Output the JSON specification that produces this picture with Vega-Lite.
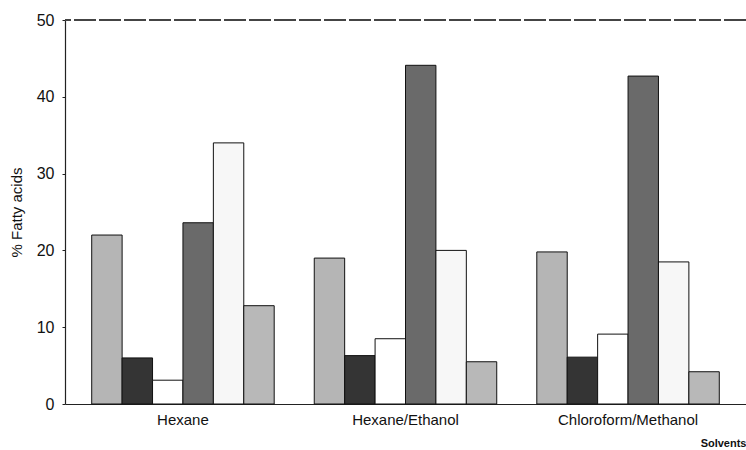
{
  "$schema": "https://vega.github.io/schema/vega-lite/v6.json",
  "width": 681,
  "height": 384,
  "autosize": {"type": "none"},
  "padding": {"left": 65, "top": 20, "right": 0, "bottom": 46},
  "background": "white",
  "config": {
    "view": {"stroke": null},
    "font": "Liberation Sans",
    "axis": {"labelFont": "Liberation Sans", "titleFont": "Liberation Sans", "labelColor": "#111", "titleColor": "#111", "domainColor": "#222", "tickColor": "#222"}
  },
  "data": {
    "values": [
      {"solvent": "Hexane", "acid": "Fatty acid 1", "pct": 22},
      {"solvent": "Hexane", "acid": "Fatty acid 2", "pct": 6},
      {"solvent": "Hexane", "acid": "Fatty acid 3", "pct": 3.1},
      {"solvent": "Hexane", "acid": "Fatty acid 4", "pct": 23.6},
      {"solvent": "Hexane", "acid": "Fatty acid 5", "pct": 34},
      {"solvent": "Hexane", "acid": "Fatty acid 6", "pct": 12.8},
      {"solvent": "Hexane/Ethanol", "acid": "Fatty acid 1", "pct": 19},
      {"solvent": "Hexane/Ethanol", "acid": "Fatty acid 2", "pct": 6.3},
      {"solvent": "Hexane/Ethanol", "acid": "Fatty acid 3", "pct": 8.5},
      {"solvent": "Hexane/Ethanol", "acid": "Fatty acid 4", "pct": 44.1},
      {"solvent": "Hexane/Ethanol", "acid": "Fatty acid 5", "pct": 20},
      {"solvent": "Hexane/Ethanol", "acid": "Fatty acid 6", "pct": 5.5},
      {"solvent": "Chloroform/Methanol", "acid": "Fatty acid 1", "pct": 19.8},
      {"solvent": "Chloroform/Methanol", "acid": "Fatty acid 2", "pct": 6.1},
      {"solvent": "Chloroform/Methanol", "acid": "Fatty acid 3", "pct": 9.1},
      {"solvent": "Chloroform/Methanol", "acid": "Fatty acid 4", "pct": 42.7},
      {"solvent": "Chloroform/Methanol", "acid": "Fatty acid 5", "pct": 18.5},
      {"solvent": "Chloroform/Methanol", "acid": "Fatty acid 6", "pct": 4.2}
    ]
  },
  "layer": [
    {
      "mark": {"type": "bar", "stroke": "#111", "strokeWidth": 1},
      "encoding": {
        "x": {
          "field": "solvent", "type": "nominal",
          "sort": ["Hexane", "Hexane/Ethanol", "Chloroform/Methanol"],
          "scale": {"paddingInner": 0.18, "paddingOuter": 0.12},
          "axis": {"title": "Solvents", "titleAnchor": "end", "titleFontSize": 11, "titleFontWeight": "bold", "titlePadding": 10, "labelAngle": 0, "labelFontSize": 15, "labelPadding": 8, "ticks": false, "domainWidth": 1.2}
        },
        "xOffset": {"field": "acid", "type": "nominal", "scale": {"paddingInner": 0, "paddingOuter": 0}},
        "y": {
          "field": "pct", "type": "quantitative",
          "scale": {"domain": [0, 50], "nice": false},
          "axis": {"title": "% Fatty acids", "titleFontSize": 15, "titleFontWeight": "normal", "titlePadding": 12, "values": [0, 10, 20, 30, 40, 50], "labelFontSize": 16, "labelPadding": 8, "tickSize": 3, "grid": false, "domainWidth": 1.2}
        },
        "fill": {
          "field": "acid", "type": "nominal", "legend": null,
          "scale": {"domain": ["Fatty acid 1", "Fatty acid 2", "Fatty acid 3", "Fatty acid 4", "Fatty acid 5", "Fatty acid 6"],
                    "range": ["#b5b5b5", "#343434", "#ffffff", "#6a6a6a", "#f7f7f7", "#b8b8b8"]}
        }
      }
    },
    {
      "mark": {"type": "rule", "color": "#444", "strokeWidth": 1, "strokeDash": [22, 3]},
      "encoding": {"y": {"datum": 50}}
    }
  ]
}
